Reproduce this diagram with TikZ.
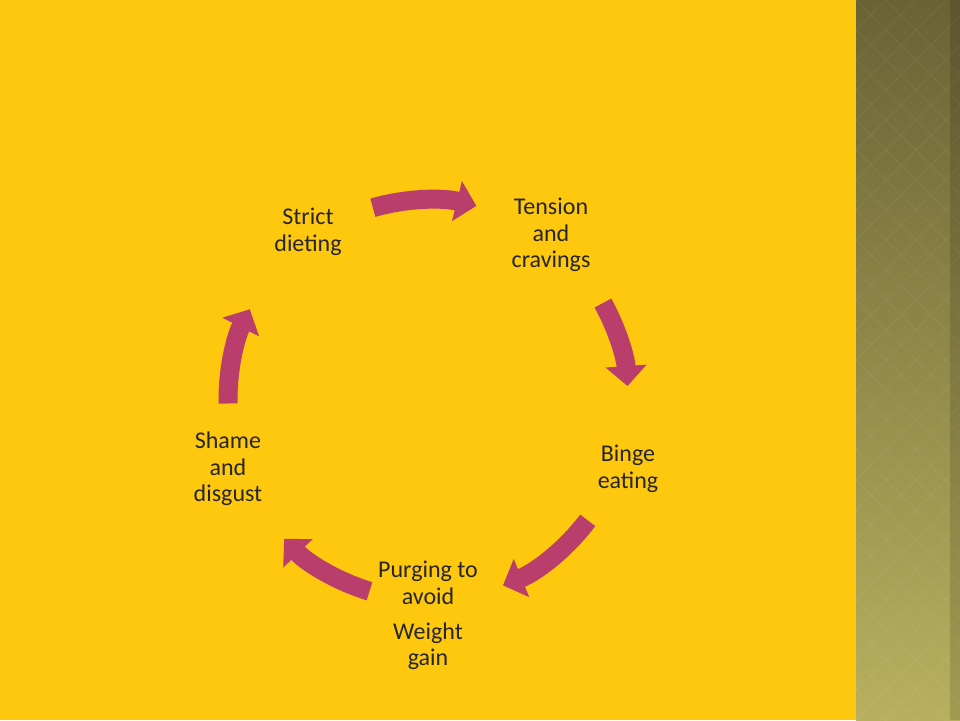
\documentclass[tikz,border=0pt]{standalone}
\usepackage{fontspec}
\setmainfont{Carlito}
\usetikzlibrary{arrows.meta,calc}
\definecolor{bg}{HTML}{FEC80F}
\definecolor{arr}{HTML}{B93E6C}
\definecolor{txt}{HTML}{262626}
\definecolor{stripT}{HTML}{6A6235}
\definecolor{stripB}{HTML}{B8B05E}
\tikzset{lbl/.style={text=txt,align=center,font=\fontsize{24}{26.5}\selectfont},
 cyc/.style={arr,line width=19pt,-{Triangle[width=40pt,length=20pt]}}}
\begin{document}
\begin{tikzpicture}[x=1pt,y=1pt]
\useasboundingbox (0,-720) rectangle (960,0);
\fill[bg] (0,-720) rectangle (960,0);
\shade[top color=stripT, bottom color=stripB] (856,-720) rectangle (960,0);
\begin{scope}
\clip (856,-720) rectangle (960,0);
\foreach \i in {-30,0,...,750}{
 \draw[white,opacity=0.035,line width=2pt] (856,-\i) -- ++(120,-120);
 \draw[white,opacity=0.035,line width=2pt] (856,-\i) -- ++(120,120);
}
\end{scope}
\fill[black,opacity=0.12] (950,-720) rectangle (960,0);
\coordinate (c) at (428,-400);
\node[lbl] (s) at (308,-232) {Strict\\dieting};
\node[lbl] (t) at (551,-235) {Tension\\and\\cravings};
\node[lbl] (b) at (628,-469) {Binge\\eating};
\node[lbl] (p) at (428,-583) {Purging to\\avoid};
\node[lbl] (w) at (428,-646) {Weight\\gain};
\node[lbl] (d) at (228,-469) {Shame\\and\\disgust};
\begin{scope}[shift={(c)}]
\draw[cyc] (106:200) arc[start angle=106,end angle=76,radius=200];
\draw[cyc] (29:200) arc[start angle=29,end angle=4,radius=200];
\draw[cyc] (-37:200) arc[start angle=-37,end angle=-68,radius=200];
\draw[cyc] (-107:200) arc[start angle=-107,end angle=-136,radius=200];
\draw[cyc] (181:200) arc[start angle=181,end angle=153,radius=200];
\end{scope}
\end{tikzpicture}
\end{document}
